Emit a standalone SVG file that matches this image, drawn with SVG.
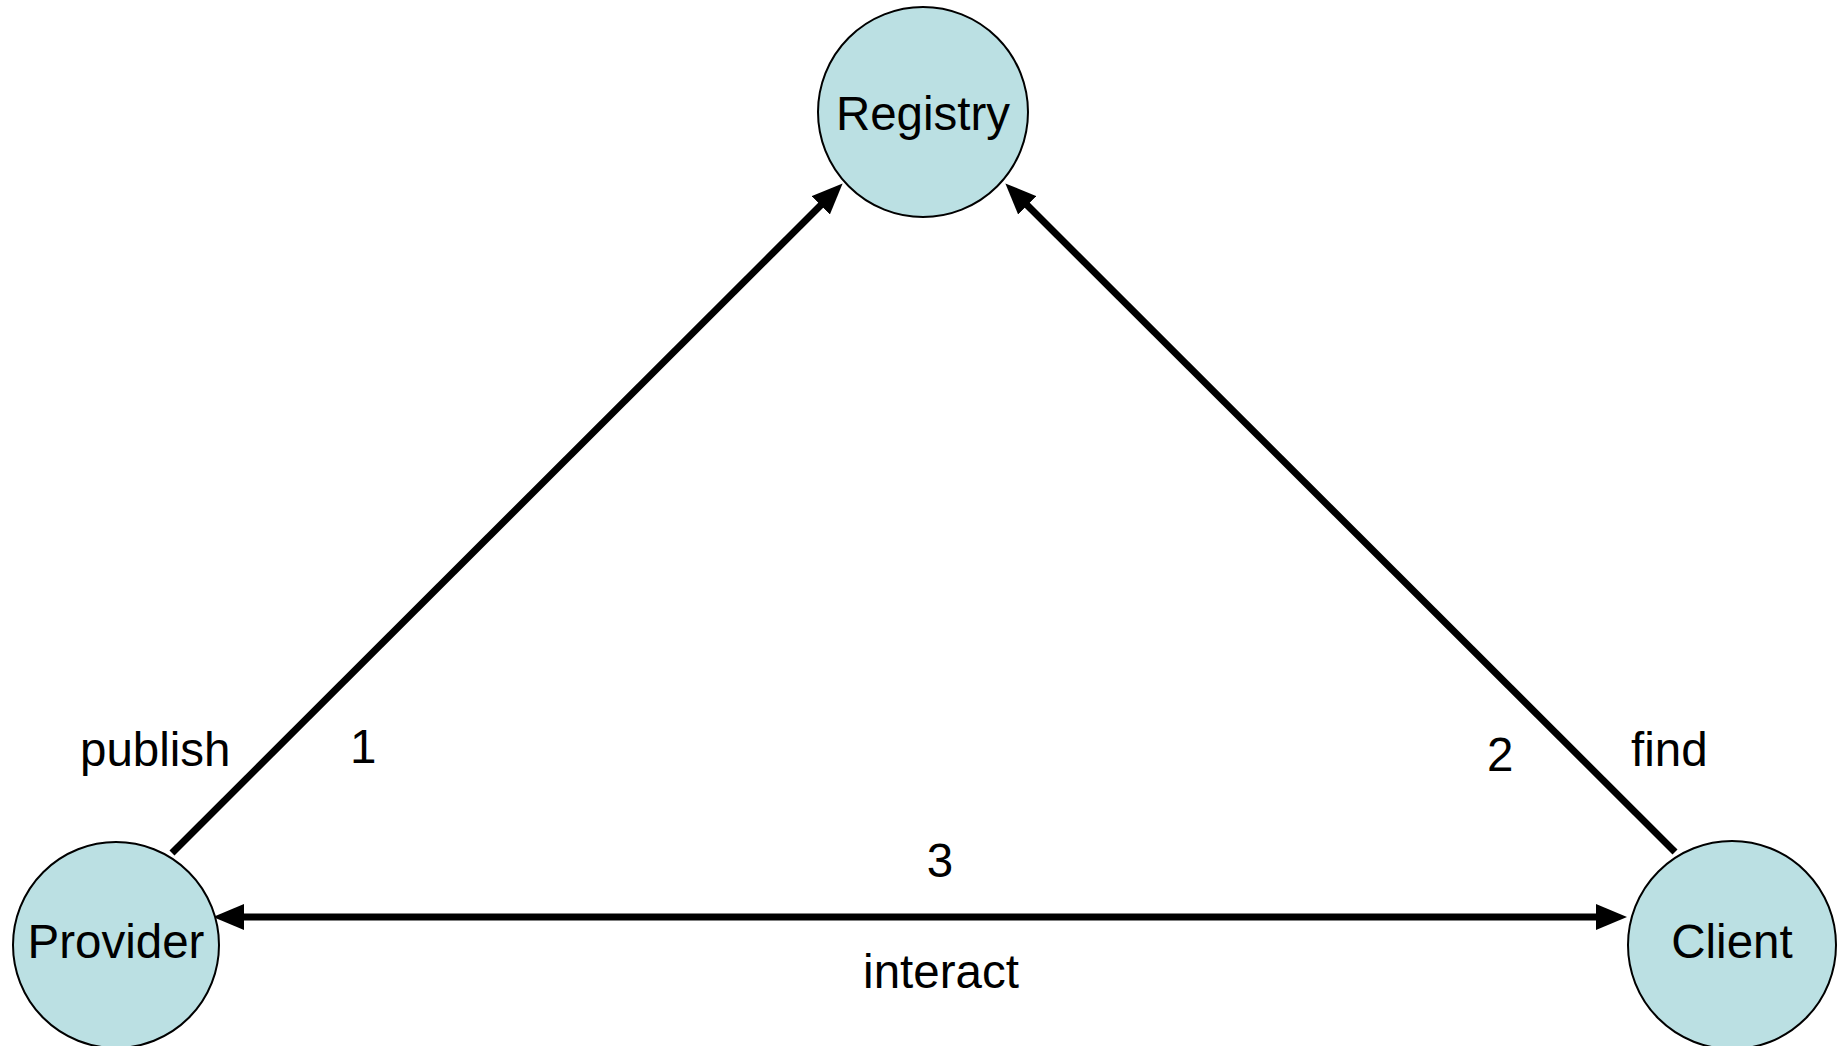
<svg xmlns="http://www.w3.org/2000/svg" width="1847" height="1046" viewBox="0 0 1847 1046">
<style>
.node{fill:#BBE0E3;stroke:#000;stroke-width:2}
.t{font-family:"Liberation Sans",Arial,sans-serif;font-size:47.5px;fill:#000;text-anchor:middle}
.l{font-family:"Liberation Sans",Arial,sans-serif;font-size:47.5px;fill:#000}
.c{stroke:#000;stroke-width:7;fill:none}
</style>
<defs>
<marker id="ah" markerUnits="userSpaceOnUse" markerWidth="32" markerHeight="26" viewBox="0 0 32 26" refX="16" refY="13" orient="auto-start-reverse">
<path d="M0,0 L31,13 L0,26 z" fill="#000"/>
</marker>
</defs>
<rect width="1847" height="1046" fill="#fff"/>
<g id="connectors">
<line class="c" x1="172" y1="853" x2="832" y2="194" marker-end="url(#ah)"/>
<line class="c" x1="1675" y1="852" x2="1016" y2="194" marker-end="url(#ah)"/>
<line class="c" x1="228" y1="917" x2="1612" y2="917" marker-start="url(#ah)" marker-end="url(#ah)"/>
</g>
<g id="registry">
<circle class="node" cx="923" cy="112" r="105"/>
<text class="t" x="923" y="130">Registry</text>
</g>
<g id="provider">
<circle class="node" cx="116" cy="945" r="103"/>
<text class="t" x="116" y="958">Provider</text>
</g>
<g id="client">
<circle class="node" cx="1732" cy="945" r="104"/>
<text class="t" x="1732" y="958">Client</text>
</g>
<g id="labels">
<text class="l" x="80" y="766">publish</text>
<text class="l" x="350" y="763">1</text>
<text class="l" x="1487" y="771">2</text>
<text class="l" x="1631" y="766">find</text>
<text class="t" x="940" y="877">3</text>
<text class="t" x="941" y="988">interact</text>
</g>
</svg>
